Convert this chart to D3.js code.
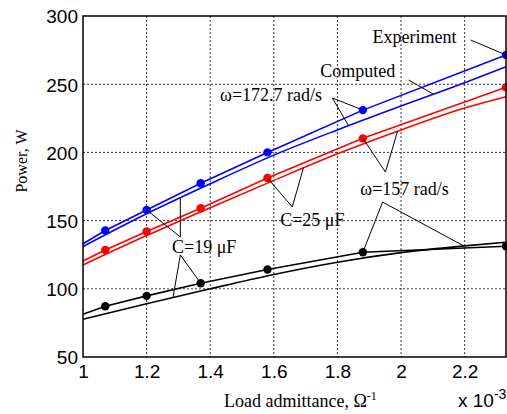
<!DOCTYPE html>
<html>
<head>
<meta charset="utf-8">
<script src="https://cdn.jsdelivr.net/npm/d3@7"></script>
<style>
  body { margin: 0; background: #fff; }
  .grid line { stroke: #000; stroke-dasharray: 2,2; stroke-width: 0.8; }
  .tick-label { font-family: Arial, "Liberation Sans", sans-serif; font-size: 19px; }
  .note { font-family: "Times New Roman", "Liberation Serif", serif; font-size: 18px; }
</style>
</head>
<body>
<div id="chart"></div>
<script>
// x values, 10^-3 1/Ohm
var expX = [1.0, 1.07, 1.2, 1.37, 1.58, 1.88, 2.33];
var calcX = [1.0, 1.2, 1.4, 1.6, 1.8, 2.0, 2.2, 2.33];

// experiment (first value = line start at axis, not a measured point)
var blueExp = [133, 142.7, 157.8, 177.4, 200, 231, 271.4];
var redExp = [120.4, 128.5, 142, 159, 181.3, 210.3, 247.7];
var blackExp = [81.4, 87.2, 94.8, 104.1, 114.1, 126.8, 131.2];

// computed
var blueCalc = [131, 155, 177, 198, 216.5, 234, 251, 262.8];
var redCalc = [117.5, 139, 159.5, 179.5, 199, 216.5, 232.5, 240.8];
var blackCalc = [77.7, 89, 100, 110.5, 119.5, 126.5, 131.5, 134.2];

var xTicks = [1, 1.2, 1.4, 1.6, 1.8, 2, 2.2];
var yTicks = [50, 100, 150, 200, 250, 300];

var series = [
    { color: "#0000ff", exp: blueExp, calc: blueCalc },
    { color: "#ff0000", exp: redExp, calc: redCalc },
    { color: "#000000", exp: blackExp, calc: blackCalc }
];

// annotations: text position and apex in data coords, targets = [series, "exp"|"calc", x]
var notes = [
    { text: "Experiment", tx: 1.91, ty: 280.2, legs: [{ ax: 2.219, ay: 282.4, targets: [[0, "exp", 2.33]] }] },
    { text: "Computed", tx: 1.746, ty: 255.3, legs: [{ ax: 2.024, ay: 253, targets: [[0, "calc", 2.102]] }] },
    { text: "ω=172.7 rad/s", tx: 1.431, ty: 237.7, legs: [{ ax: 1.784, ay: 239.9, targets: [[0, "exp", 1.88], [0, "calc", 1.835]] }] },
    { text: "ω=157 rad/s", tx: 1.872, ty: 168.8, legs: [
        { ax: 1.951, ay: 185.6, targets: [[1, "exp", 1.88], [1, "calc", 1.989]] },
        { ax: 1.942, ay: 163.6, targets: [[2, "exp", 1.88], [2, "calc", 2.197]] }] },
    { text: "C=25 μF", tx: 1.62, ty: 146, legs: [{ ax: 1.658, ay: 160, targets: [[1, "exp", 1.58], [1, "calc", 1.693]] }] },
    { text: "C=19 μF", tx: 1.28, ty: 126.2, legs: [
        { ax: 1.306, ay: 138, targets: [[0, "exp", 1.2], [0, "calc", 1.306]] },
        { ax: 1.306, ay: 124.8, targets: [[2, "exp", 1.37], [2, "calc", 1.283]] }] }
];

var W = 507, H = 414;
var margin = { top: 16, right: 1, bottom: 57, left: 83 };
var width = W - margin.left - margin.right,
    height = H - margin.top - margin.bottom;

var svg = d3.select("#chart").append("svg")
    .attr("width", W)
    .attr("height", H);

var x = d3.scaleLinear().domain([1, 2.33]).range([0, width]);
var y = d3.scaleLinear().domain([50, 300]).range([height, 0]);

var g = svg.append("g")
    .attr("transform", "translate(" + margin.left + "," + margin.top + ")");

// grid
var grid = g.append("g").attr("class", "grid");
grid.selectAll(".gx").data(xTicks.slice(1)).enter().append("line")
    .attr("x1", function(d) { return x(d); })
    .attr("x2", function(d) { return x(d); })
    .attr("y1", 0).attr("y2", height);
grid.selectAll(".gy").data(yTicks.slice(1, -1)).enter().append("line")
    .attr("y1", function(d) { return y(d); })
    .attr("y2", function(d) { return y(d); })
    .attr("x1", 0).attr("x2", width);

// axes (labels only, MATLAB style)
var xAxis = d3.axisBottom(x).tickValues(xTicks).tickSize(0).tickPadding(8)
    .tickFormat(function(d) { return d3.format("")(d); });
var yAxis = d3.axisLeft(y).tickValues(yTicks).tickSize(0).tickPadding(5);

g.append("g").attr("transform", "translate(0," + height + ")").call(xAxis)
    .call(function(a) { a.select(".domain").remove(); })
    .selectAll("text").attr("class", "tick-label").attr("fill", "#000");
g.append("g").call(yAxis)
    .call(function(a) { a.select(".domain").remove(); })
    .selectAll("text").attr("class", "tick-label").attr("fill", "#000").attr("dy", "0.36em");

// lines
var expLine = d3.line()
    .x(function(d) { return x(d[0]); })
    .y(function(d) { return y(d[1]); });

series.forEach(function(s) {
    var ep = d3.zip(expX, s.exp);
    var cp = d3.zip(calcX, s.calc);
    g.append("path").datum(cp)
        .attr("d", d3.line().curve(d3.curveMonotoneX).x(function(d) { return x(d[0]); }).y(function(d) { return y(d[1]); }))
        .attr("fill", "none").attr("stroke", s.color).attr("stroke-width", 1.6);
    g.append("path").datum(ep)
        .attr("d", expLine)
        .attr("fill", "none").attr("stroke", s.color).attr("stroke-width", 1.6);
    g.selectAll(null).data(ep.slice(1)).enter().append("circle")
        .attr("cx", function(d) { return x(d[0]); })
        .attr("cy", function(d) { return y(d[1]); })
        .attr("r", 4.2)
        .attr("fill", s.color);
});

// y value on a series at given x
function valueAt(si, kind, xv) {
    var xs = kind == "exp" ? expX : calcX;
    var ys = kind == "exp" ? series[si].exp : series[si].calc;
    var i = d3.bisectLeft(xs, xv);
    if (i <= 0) return ys[0];
    if (i >= xs.length) return ys[ys.length - 1];
    var t = (xv - xs[i - 1]) / (xs[i] - xs[i - 1]);
    return ys[i - 1] + t * (ys[i] - ys[i - 1]);
}

// annotations
notes.forEach(function(n) {
    g.append("text").attr("class", "note")
        .attr("x", x(n.tx)).attr("y", y(n.ty))
        .text(n.text);
    n.legs.forEach(function(leg) {
        leg.targets.forEach(function(t) {
            g.append("line")
                .attr("x1", x(leg.ax)).attr("y1", y(leg.ay))
                .attr("x2", x(t[2])).attr("y2", y(valueAt(t[0], t[1], t[2])))
                .attr("stroke", "#000").attr("stroke-width", 1);
        });
    });
});

// frame
g.append("rect")
    .attr("width", width).attr("height", height)
    .attr("fill", "none").attr("stroke", "#000").attr("stroke-width", 1.5);

// axis titles
svg.append("text").attr("class", "note")
    .attr("transform", "translate(27,161) rotate(-90)")
    .attr("text-anchor", "middle")
    .style("font-size", "16px")
    .text("Power, W");

var xl = svg.append("text").attr("class", "note")
    .attr("x", 224).attr("y", 407)
    .style("font-size", "18px");
xl.append("tspan").text("Load admittance, Ω");
xl.append("tspan").attr("dy", -7).style("font-size", "12px").text("-1");

var ex = svg.append("text").attr("class", "tick-label")
    .attr("x", 458).attr("y", 407);
ex.append("tspan").text("x 10");
ex.append("tspan").attr("dy", -8).style("font-size", "14px").text("-3");
</script>
</body>
</html>
